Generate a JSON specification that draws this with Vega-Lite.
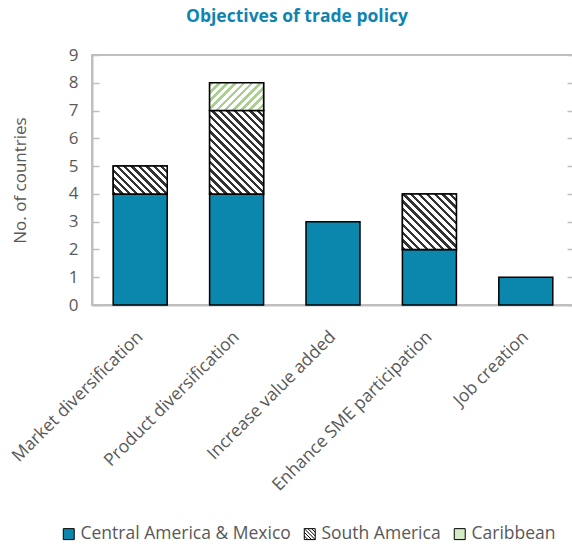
{
  "$schema": "https://vega.github.io/schema/vega-lite/v6.json",
  "autosize": "none",
  "width": 482,
  "height": 250,
  "padding": {"left": 92, "top": 55, "right": 0, "bottom": 241},
  "background": "white",
  "title": {
    "text": "Objectives of trade policy",
    "font": "Open Sans",
    "fontSize": 17.5,
    "fontWeight": "bold",
    "color": "#0f84b0",
    "anchor": "middle",
    "frame": "group",
    "dx": -36,
    "offset": 21
  },
  "config": {
    "font": "Open Sans",
    "view": {"stroke": "#bfbfbf", "strokeWidth": 2},
    "axis": {"grid": false}
  },
  "data": {
    "values": [
      {"objective": "Market diversification", "region": "Central America & Mexico", "count": 4},
      {"objective": "Market diversification", "region": "South America", "count": 1},
      {"objective": "Product diversification", "region": "Central America & Mexico", "count": 4},
      {"objective": "Product diversification", "region": "South America", "count": 3},
      {"objective": "Product diversification", "region": "Caribbean", "count": 1},
      {"objective": "Increase value added", "region": "Central America & Mexico", "count": 3},
      {"objective": "Enhance SME participation", "region": "Central America & Mexico", "count": 2},
      {"objective": "Enhance SME participation", "region": "South America", "count": 2},
      {"objective": "Job creation", "region": "Central America & Mexico", "count": 1}
    ]
  },
  "transform": [
    {"calculate": "indexof(['Central America & Mexico','South America','Caribbean'], datum.region)", "as": "ord"},
    {"stack": "count", "groupby": ["objective"], "sort": [{"field": "ord", "order": "ascending"}], "as": ["c0", "c1"]}
  ],
  "encoding": {
    "x": {
      "field": "objective",
      "type": "nominal",
      "sort": null,
      "scale": {"paddingInner": 0.44, "paddingOuter": 0.22},
      "axis": {
        "title": null,
        "bandPosition": 0,
        "labelOffset": 0,
        "labelAngle": -45,
        "labelAlign": "right",
        "labelBaseline": "middle",
        "labelFontSize": 17.5,
        "labelColor": "#595959",
        "labelPadding": 35,
        "labelLimit": 400,
        "tickSize": -6,
        "tickColor": "#bfbfbf",
        "tickWidth": 1.5,
        "domainColor": "#bfbfbf",
        "domainWidth": 2
      }
    },
    "y": {
      "field": "c1",
      "type": "quantitative",
      "scale": {"domain": [0, 9], "nice": false}
    },
    "y2": {"field": "c0"}
  },
  "layer": [
    {
      "mark": {"type": "bar", "stroke": "black", "strokeWidth": 1.5},
      "encoding": {
        "y": {
          "field": "c1",
          "type": "quantitative",
          "scale": {"domain": [0, 9], "nice": false},
          "axis": {
            "values": [0, 1, 2, 3, 4, 5, 6, 7, 8, 9],
            "title": "No. of countries",
            "titleFontSize": 17,
            "titleFontWeight": "normal",
            "titleColor": "#595959",
            "titlePadding": 39,
            "labelFontSize": 17,
            "labelColor": "#595959",
            "labelPadding": 21,
            "tickSize": -7,
            "tickColor": "#bfbfbf",
            "tickWidth": 1.5,
            "domainColor": "#bfbfbf",
            "domainWidth": 2
          }
        },
        "fill": {
          "field": "region",
          "type": "nominal",
          "scale": {
            "domain": ["Central America & Mexico", "South America", "Caribbean"],
            "range": ["#0b86ad", "#ffffff", "#d4e9c6"]
          },
          "legend": {
            "title": null,
            "orient": "none",
            "legendX": -32,
            "legendY": 470,
            "direction": "horizontal",
            "symbolType": "square",
            "symbolSize": 120,
            "symbolStrokeColor": "black",
            "symbolStrokeWidth": 1,
            "symbolOpacity": 1,
            "labelFontSize": 17.5,
            "labelColor": "#595959",
            "labelOffset": 3,
            "columnPadding": 10,
            "labelLimit": 300,
            "encode": {
              "symbols": {
                "update": {
                  "shape": [
                    {"test": "datum.value === 'South America'", "value": "M-1,-1H1V1H-1Z M-1,-1L1,1 M-0.33,-1L1,0.33 M-1,-0.33L0.33,1 M0.33,-1L1,-0.33 M-1,0.33L-0.33,1"},
                    {"value": "square"}
                  ]
                }
              }
            }
          }
        }
      }
    },
    {
      "transform": [{"filter": "datum.region === 'South America' && datum.count === 1"}],
      "mark": {
        "type": "bar", "stroke": "black", "strokeWidth": 1.5,
        "fill": {
          "gradient": "linear", "x1": 0, "y1": 1, "x2": 1.198, "y2": 0.383,
          "stops": [
            {"offset": 0, "color": "#333333"}, {"offset": 0.04, "color": "#333333"}, {"offset": 0.04, "color": "#ffffff"}, {"offset": 0.0909, "color": "#ffffff"},
            {"offset": 0.0909, "color": "#333333"}, {"offset": 0.1309, "color": "#333333"}, {"offset": 0.1309, "color": "#ffffff"}, {"offset": 0.1818, "color": "#ffffff"},
            {"offset": 0.1818, "color": "#333333"}, {"offset": 0.2218, "color": "#333333"}, {"offset": 0.2218, "color": "#ffffff"}, {"offset": 0.2727, "color": "#ffffff"},
            {"offset": 0.2727, "color": "#333333"}, {"offset": 0.3127, "color": "#333333"}, {"offset": 0.3127, "color": "#ffffff"}, {"offset": 0.3636, "color": "#ffffff"},
            {"offset": 0.3636, "color": "#333333"}, {"offset": 0.4036, "color": "#333333"}, {"offset": 0.4036, "color": "#ffffff"}, {"offset": 0.4545, "color": "#ffffff"},
            {"offset": 0.4545, "color": "#333333"}, {"offset": 0.4945, "color": "#333333"}, {"offset": 0.4945, "color": "#ffffff"}, {"offset": 0.5455, "color": "#ffffff"},
            {"offset": 0.5455, "color": "#333333"}, {"offset": 0.5855, "color": "#333333"}, {"offset": 0.5855, "color": "#ffffff"}, {"offset": 0.6364, "color": "#ffffff"},
            {"offset": 0.6364, "color": "#333333"}, {"offset": 0.6764, "color": "#333333"}, {"offset": 0.6764, "color": "#ffffff"}, {"offset": 0.7273, "color": "#ffffff"},
            {"offset": 0.7273, "color": "#333333"}, {"offset": 0.7673, "color": "#333333"}, {"offset": 0.7673, "color": "#ffffff"}, {"offset": 0.8182, "color": "#ffffff"},
            {"offset": 0.8182, "color": "#333333"}, {"offset": 0.8582, "color": "#333333"}, {"offset": 0.8582, "color": "#ffffff"}, {"offset": 0.9091, "color": "#ffffff"},
            {"offset": 0.9091, "color": "#333333"}, {"offset": 0.9491, "color": "#333333"}, {"offset": 0.9491, "color": "#ffffff"}, {"offset": 1, "color": "#ffffff"}
          ]
        }
      }
    },
    {
      "transform": [{"filter": "datum.region === 'South America' && datum.count === 2"}],
      "mark": {
        "type": "bar", "stroke": "black", "strokeWidth": 1.5,
        "fill": {
          "gradient": "linear", "x1": 0, "y1": 1, "x2": 0.985, "y2": -0.015,
          "stops": [
            {"offset": 0, "color": "#333333"}, {"offset": 0.03, "color": "#333333"}, {"offset": 0.03, "color": "#ffffff"}, {"offset": 0.0714, "color": "#ffffff"},
            {"offset": 0.0714, "color": "#333333"}, {"offset": 0.1014, "color": "#333333"}, {"offset": 0.1014, "color": "#ffffff"}, {"offset": 0.1429, "color": "#ffffff"},
            {"offset": 0.1429, "color": "#333333"}, {"offset": 0.1729, "color": "#333333"}, {"offset": 0.1729, "color": "#ffffff"}, {"offset": 0.2143, "color": "#ffffff"},
            {"offset": 0.2143, "color": "#333333"}, {"offset": 0.2443, "color": "#333333"}, {"offset": 0.2443, "color": "#ffffff"}, {"offset": 0.2857, "color": "#ffffff"},
            {"offset": 0.2857, "color": "#333333"}, {"offset": 0.3157, "color": "#333333"}, {"offset": 0.3157, "color": "#ffffff"}, {"offset": 0.3571, "color": "#ffffff"},
            {"offset": 0.3571, "color": "#333333"}, {"offset": 0.3871, "color": "#333333"}, {"offset": 0.3871, "color": "#ffffff"}, {"offset": 0.4286, "color": "#ffffff"},
            {"offset": 0.4286, "color": "#333333"}, {"offset": 0.4586, "color": "#333333"}, {"offset": 0.4586, "color": "#ffffff"}, {"offset": 0.5, "color": "#ffffff"},
            {"offset": 0.5, "color": "#333333"}, {"offset": 0.53, "color": "#333333"}, {"offset": 0.53, "color": "#ffffff"}, {"offset": 0.5714, "color": "#ffffff"},
            {"offset": 0.5714, "color": "#333333"}, {"offset": 0.6014, "color": "#333333"}, {"offset": 0.6014, "color": "#ffffff"}, {"offset": 0.6429, "color": "#ffffff"},
            {"offset": 0.6429, "color": "#333333"}, {"offset": 0.6729, "color": "#333333"}, {"offset": 0.6729, "color": "#ffffff"}, {"offset": 0.7143, "color": "#ffffff"},
            {"offset": 0.7143, "color": "#333333"}, {"offset": 0.7443, "color": "#333333"}, {"offset": 0.7443, "color": "#ffffff"}, {"offset": 0.7857, "color": "#ffffff"},
            {"offset": 0.7857, "color": "#333333"}, {"offset": 0.8157, "color": "#333333"}, {"offset": 0.8157, "color": "#ffffff"}, {"offset": 0.8571, "color": "#ffffff"},
            {"offset": 0.8571, "color": "#333333"}, {"offset": 0.8871, "color": "#333333"}, {"offset": 0.8871, "color": "#ffffff"}, {"offset": 0.9286, "color": "#ffffff"},
            {"offset": 0.9286, "color": "#333333"}, {"offset": 0.9586, "color": "#333333"}, {"offset": 0.9586, "color": "#ffffff"}, {"offset": 1, "color": "#ffffff"}
          ]
        }
      }
    },
    {
      "transform": [{"filter": "datum.region === 'South America' && datum.count === 3"}],
      "mark": {
        "type": "bar", "stroke": "black", "strokeWidth": 1.5,
        "fill": {
          "gradient": "linear", "x1": 0, "y1": 1, "x2": 0.752, "y2": -0.161,
          "stops": [
            {"offset": 0, "color": "#333333"}, {"offset": 0.025, "color": "#333333"}, {"offset": 0.025, "color": "#ffffff"}, {"offset": 0.0556, "color": "#ffffff"},
            {"offset": 0.0556, "color": "#333333"}, {"offset": 0.0806, "color": "#333333"}, {"offset": 0.0806, "color": "#ffffff"}, {"offset": 0.1111, "color": "#ffffff"},
            {"offset": 0.1111, "color": "#333333"}, {"offset": 0.1361, "color": "#333333"}, {"offset": 0.1361, "color": "#ffffff"}, {"offset": 0.1667, "color": "#ffffff"},
            {"offset": 0.1667, "color": "#333333"}, {"offset": 0.1917, "color": "#333333"}, {"offset": 0.1917, "color": "#ffffff"}, {"offset": 0.2222, "color": "#ffffff"},
            {"offset": 0.2222, "color": "#333333"}, {"offset": 0.2472, "color": "#333333"}, {"offset": 0.2472, "color": "#ffffff"}, {"offset": 0.2778, "color": "#ffffff"},
            {"offset": 0.2778, "color": "#333333"}, {"offset": 0.3028, "color": "#333333"}, {"offset": 0.3028, "color": "#ffffff"}, {"offset": 0.3333, "color": "#ffffff"},
            {"offset": 0.3333, "color": "#333333"}, {"offset": 0.3583, "color": "#333333"}, {"offset": 0.3583, "color": "#ffffff"}, {"offset": 0.3889, "color": "#ffffff"},
            {"offset": 0.3889, "color": "#333333"}, {"offset": 0.4139, "color": "#333333"}, {"offset": 0.4139, "color": "#ffffff"}, {"offset": 0.4444, "color": "#ffffff"},
            {"offset": 0.4444, "color": "#333333"}, {"offset": 0.4694, "color": "#333333"}, {"offset": 0.4694, "color": "#ffffff"}, {"offset": 0.5, "color": "#ffffff"},
            {"offset": 0.5, "color": "#333333"}, {"offset": 0.525, "color": "#333333"}, {"offset": 0.525, "color": "#ffffff"}, {"offset": 0.5556, "color": "#ffffff"},
            {"offset": 0.5556, "color": "#333333"}, {"offset": 0.5806, "color": "#333333"}, {"offset": 0.5806, "color": "#ffffff"}, {"offset": 0.6111, "color": "#ffffff"},
            {"offset": 0.6111, "color": "#333333"}, {"offset": 0.6361, "color": "#333333"}, {"offset": 0.6361, "color": "#ffffff"}, {"offset": 0.6667, "color": "#ffffff"},
            {"offset": 0.6667, "color": "#333333"}, {"offset": 0.6917, "color": "#333333"}, {"offset": 0.6917, "color": "#ffffff"}, {"offset": 0.7222, "color": "#ffffff"},
            {"offset": 0.7222, "color": "#333333"}, {"offset": 0.7472, "color": "#333333"}, {"offset": 0.7472, "color": "#ffffff"}, {"offset": 0.7778, "color": "#ffffff"},
            {"offset": 0.7778, "color": "#333333"}, {"offset": 0.8028, "color": "#333333"}, {"offset": 0.8028, "color": "#ffffff"}, {"offset": 0.8333, "color": "#ffffff"},
            {"offset": 0.8333, "color": "#333333"}, {"offset": 0.8583, "color": "#333333"}, {"offset": 0.8583, "color": "#ffffff"}, {"offset": 0.8889, "color": "#ffffff"},
            {"offset": 0.8889, "color": "#333333"}, {"offset": 0.9139, "color": "#333333"}, {"offset": 0.9139, "color": "#ffffff"}, {"offset": 0.9444, "color": "#ffffff"},
            {"offset": 0.9444, "color": "#333333"}, {"offset": 0.9694, "color": "#333333"}, {"offset": 0.9694, "color": "#ffffff"}, {"offset": 1, "color": "#ffffff"}
          ]
        }
      }
    },
    {
      "transform": [{"filter": "datum.region === 'Caribbean'"}],
      "mark": {
        "type": "bar", "stroke": "black", "strokeWidth": 1.5,
        "fill": {
          "gradient": "linear", "x1": 0, "y1": 0, "x2": 1.198, "y2": 0.617,
          "stops": [
            {"offset": 0, "color": "#a9d08e"}, {"offset": 0.045, "color": "#a9d08e"}, {"offset": 0.045, "color": "#ffffff"}, {"offset": 0.1, "color": "#ffffff"},
            {"offset": 0.1, "color": "#a9d08e"}, {"offset": 0.145, "color": "#a9d08e"}, {"offset": 0.145, "color": "#ffffff"}, {"offset": 0.2, "color": "#ffffff"},
            {"offset": 0.2, "color": "#a9d08e"}, {"offset": 0.245, "color": "#a9d08e"}, {"offset": 0.245, "color": "#ffffff"}, {"offset": 0.3, "color": "#ffffff"},
            {"offset": 0.3, "color": "#a9d08e"}, {"offset": 0.345, "color": "#a9d08e"}, {"offset": 0.345, "color": "#ffffff"}, {"offset": 0.4, "color": "#ffffff"},
            {"offset": 0.4, "color": "#a9d08e"}, {"offset": 0.445, "color": "#a9d08e"}, {"offset": 0.445, "color": "#ffffff"}, {"offset": 0.5, "color": "#ffffff"},
            {"offset": 0.5, "color": "#a9d08e"}, {"offset": 0.545, "color": "#a9d08e"}, {"offset": 0.545, "color": "#ffffff"}, {"offset": 0.6, "color": "#ffffff"},
            {"offset": 0.6, "color": "#a9d08e"}, {"offset": 0.645, "color": "#a9d08e"}, {"offset": 0.645, "color": "#ffffff"}, {"offset": 0.7, "color": "#ffffff"},
            {"offset": 0.7, "color": "#a9d08e"}, {"offset": 0.745, "color": "#a9d08e"}, {"offset": 0.745, "color": "#ffffff"}, {"offset": 0.8, "color": "#ffffff"},
            {"offset": 0.8, "color": "#a9d08e"}, {"offset": 0.845, "color": "#a9d08e"}, {"offset": 0.845, "color": "#ffffff"}, {"offset": 0.9, "color": "#ffffff"},
            {"offset": 0.9, "color": "#a9d08e"}, {"offset": 0.945, "color": "#a9d08e"}, {"offset": 0.945, "color": "#ffffff"}, {"offset": 1, "color": "#ffffff"}
          ]
        }
      }
    },
    {
      "mark": {"type": "bar", "opacity": 0},
      "encoding": {
        "y": {
          "field": "c1",
          "type": "quantitative",
          "axis": {
            "orient": "right",
            "values": [0, 1, 2, 3, 4, 5, 6, 7, 8, 9],
            "title": null,
            "labels": false,
            "labelPadding": -40,
            "domain": false,
            "tickSize": -7,
            "tickColor": "#bfbfbf",
            "tickWidth": 1.5
          }
        }
      }
    }
  ],
  "resolve": {"axis": {"y": "independent"}}
}
